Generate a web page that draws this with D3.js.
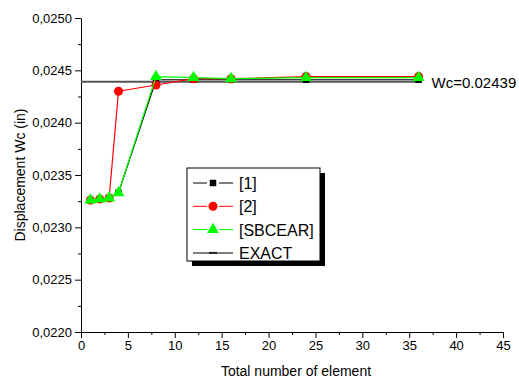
<!DOCTYPE html>
<html>
<head>
<meta charset="utf-8">
<script src="https://cdn.jsdelivr.net/npm/d3@7"></script>
<style>
  body { margin: 0; background: #fff; }
  svg text { font-family: "Liberation Sans", Arial, sans-serif; }
</style>
</head>
<body>
<svg id="chart" width="519" height="379"></svg>
<script>
// data
const elements = [1, 2, 3, 4, 8, 12, 16, 24, 36];
const ref1 = [0.02326, 0.02327, 0.02328, 0.02333, 0.02441, 0.02441, 0.02441, 0.02441, 0.02441];
const ref2 = [0.02326, 0.02327, 0.02328, 0.02430, 0.02436, 0.02442, 0.02442, 0.02444, 0.02444];
const sbcear = [0.02326, 0.02327, 0.02328, 0.02333, 0.02444, 0.02443, 0.02442, 0.02443, 0.02443];
const exactValue = 0.02439;
const exactRange = [0, 36];
const xTicks = [0, 5, 10, 15, 20, 25, 30, 35, 40, 45];
const yTicks = [0.0220, 0.0225, 0.0230, 0.0235, 0.0240, 0.0245, 0.0250];

const margin = { top: 18, right: 16, bottom: 47, left: 81 };
const width = 519 - margin.left - margin.right;
const height = 379 - margin.top - margin.bottom;
const FONT = '"Liberation Sans", Arial, sans-serif';

const svg = d3.select('#chart');
const g = svg.append('g').attr('transform', 'translate(' + margin.left + ',' + margin.top + ')');

const x = d3.scaleLinear().domain([0, 45]).range([0, width]);
const y = d3.scaleLinear().domain([0.0220, 0.0250]).range([height, 0]);

const fmtY = (d) => d3.format('.4f')(d).replace('.', ',');

// minor ticks
const xMinor = d3.range(0, 45.01, 2.5).filter((d) => d % 5 !== 0);
const yMinor = d3.range(0.02200, 0.02501, 0.00025).filter((d) => Math.round(d * 1e5) % 50 !== 0);

g.append('g')
  .attr('transform', 'translate(0,' + height + ')')
  .call(d3.axisBottom(x).tickValues(xMinor).tickSize(3).tickFormat(''))
  .call((a) => a.select('.domain').remove());
g.append('g')
  .call(d3.axisLeft(y).tickValues(yMinor).tickSize(3).tickFormat(''))
  .call((a) => a.select('.domain').remove());

const xAxis = g.append('g')
  .attr('class', 'axis axis--x')
  .attr('transform', 'translate(0,' + height + ')')
  .call(d3.axisBottom(x).tickValues(xTicks).tickSize(6).tickSizeOuter(0).tickPadding(3));
xAxis.attr('font-family', FONT).selectAll('text').attr('font-size', 13).attr('fill', '#000');

const yAxis = g.append('g')
  .attr('class', 'axis axis--y')
  .call(d3.axisLeft(y).tickValues(yTicks).tickFormat(fmtY).tickSize(6).tickSizeOuter(0).tickPadding(3));
yAxis.attr('font-family', FONT).selectAll('text').attr('font-size', 13).attr('fill', '#000');

svg.selectAll('.axis path, .axis line').attr('stroke', '#000').attr('stroke-width', 1);
svg.selectAll('g line').attr('stroke', '#000');

// titles
svg.append('text')
  .attr('x', margin.left + width / 2 + 4)
  .attr('y', 376)
  .attr('text-anchor', 'middle')
  .attr('font-size', 14)
  .text('Total number of element');
svg.append('text')
  .attr('transform', 'translate(25,' + (margin.top + height / 2) + ') rotate(-90)')
  .attr('text-anchor', 'middle')
  .attr('font-size', 14)
  .text('Displacement Wc (in)');

// exact line
g.append('line')
  .attr('x1', x(exactRange[0])).attr('x2', x(exactRange[1]))
  .attr('y1', y(exactValue)).attr('y2', y(exactValue))
  .attr('stroke', '#555').attr('stroke-width', 2);
g.append('text')
  .attr('x', x(36) + 13)
  .attr('y', y(exactValue) + 6)
  .attr('font-size', 15)
  .text('Wc=0.02439');

const series = [
  { name: '[1]', values: ref1, color: '#000', marker: 'square' },
  { name: '[2]', values: ref2, color: '#ff0000', marker: 'circle' },
  { name: '[SBCEAR]', values: sbcear, color: '#00ff00', marker: 'triangle' }
];

const line = d3.line().x((d) => x(d[0])).y((d) => y(d[1]));
const symbolOf = {
  square: d3.symbol().type(d3.symbolSquare).size(42),
  circle: d3.symbol().type(d3.symbolCircle).size(64),
  triangle: d3.symbol().type(d3.symbolTriangle).size(62)
};

series.forEach((s) => {
  const pts = elements.map((e, i) => [e, s.values[i]]);
  g.append('path')
    .attr('d', line(pts))
    .attr('fill', 'none')
    .attr('stroke', s.color)
    .attr('stroke-width', 1.2);
  g.append('g').selectAll('path')
    .data(pts)
    .enter().append('path')
    .attr('transform', (d) => 'translate(' + x(d[0]) + ',' + y(d[1]) + ')')
    .attr('d', symbolOf[s.marker]())
    .attr('fill', s.color);
});

// legend
const legend = svg.append('g').attr('transform', 'translate(187,168)');
legend.append('rect')
  .attr('x', 5).attr('y', 5).attr('width', 133).attr('height', 93)
  .attr('fill', '#000');
legend.append('rect')
  .attr('x', 0).attr('y', 0).attr('width', 133).attr('height', 93)
  .attr('fill', '#fff').attr('stroke', '#000').attr('stroke-width', 1);

const legendItems = series.concat([{ name: 'EXACT', color: '#555', marker: null }]);
legendItems.forEach((s, i) => {
  const row = legend.append('g').attr('transform', 'translate(0,' + (15 + i * 23.3) + ')');
  if (s.marker) {
    row.append('line').attr('x1', 6).attr('x2', 20).attr('stroke', s.color).attr('stroke-width', 1);
    row.append('line').attr('x1', 32).attr('x2', 46).attr('stroke', s.color).attr('stroke-width', 1);
    row.append('path')
      .attr('transform', 'translate(26,0)')
      .attr('d', symbolOf[s.marker]())
      .attr('fill', s.color);
  } else {
    row.append('line').attr('x1', 6).attr('x2', 46).attr('stroke', s.color).attr('stroke-width', 1.5);
    row.append('line').attr('x1', 22).attr('x2', 30).attr('stroke', '#222').attr('stroke-width', 2);
  }
  row.append('text')
    .attr('x', 52).attr('y', 6)
    .attr('font-size', 16)
    .text(s.name);
});
</script>
</body>
</html>
